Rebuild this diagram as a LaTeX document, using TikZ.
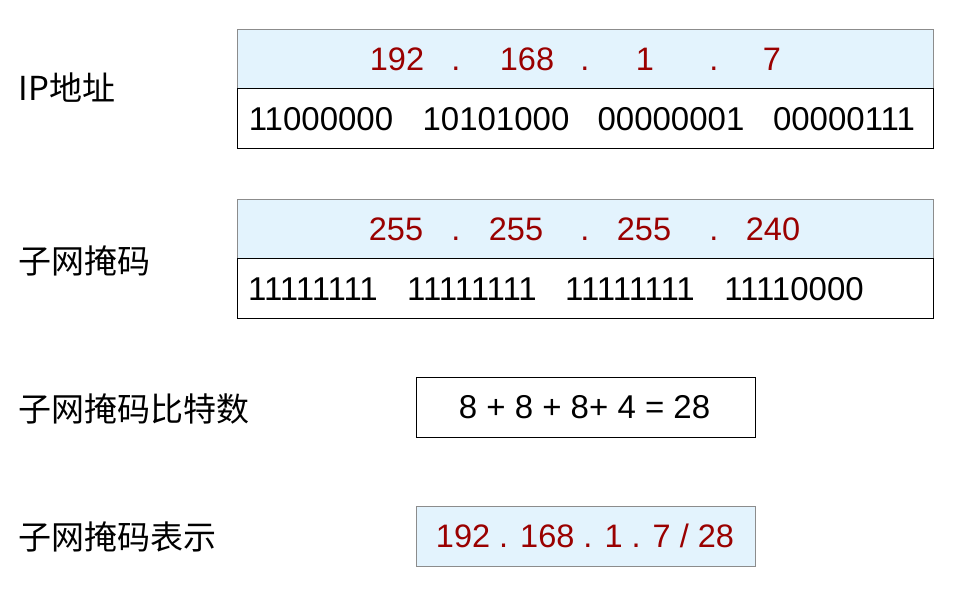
\documentclass[tikz,border=0pt]{standalone}
\usepackage{fontspec}
\setmainfont{Liberation Sans}
\newfontfamily\cjk{Noto Sans CJK SC}
\usepackage{tikz}
\definecolor{rowblue}{HTML}{E3F3FD}
\definecolor{numred}{HTML}{9A0000}
\definecolor{rimgray}{HTML}{8C8C8C}

\begin{document}
\begin{tikzpicture}[x=1pt, y=-1pt, line width=1pt,
  blue box/.style={draw=rimgray, fill=rowblue, minimum height=60pt, inner sep=0pt},
  white box/.style={draw=black, fill=white, minimum height=60pt, inner sep=0pt},
  red num/.style={anchor=base, text=numred, font=\fontsize{32.5}{33}\selectfont},
  bin num/.style={anchor=base, font=\fontsize{33}{33}\selectfont},
  side label/.style={anchor=base west, inner sep=0pt, font=\cjk\fontsize{33}{33}\selectfont}]

\useasboundingbox (0,0) rectangle (968,597);

% IP address
\node[blue box, minimum width=696pt](ipdec) at (585,59) {};
\node[white box, minimum width=696pt](ipbin) at (585,118.5) {};
\node[side label](iplabel) at (18,100) {IP地址};

\node[red num](ip1) at (397,70.5) {192};
\node[red num](ipd1) at (456,70.5) {.};
\node[red num](ip2) at (527,70.5) {168};
\node[red num](ipd2) at (585,70.5) {.};
\node[red num](ip3) at (645,70.5) {1};
\node[red num](ipd3) at (714,70.5) {.};
\node[red num](ip4) at (772,70.5) {7};

\node[bin num](ipb1) at (321,130) {11000000};
\node[bin num](ipb2) at (496,130) {10101000};
\node[bin num](ipb3) at (671,130) {00000001};
\node[bin num](ipb4) at (844,130) {00000111};

% subnet mask
\node[blue box, minimum width=696pt](maskdec) at (585,229) {};
\node[white box, minimum width=696pt](maskbin) at (585,288.5) {};
\node[side label](masklabel) at (18,273) {子网掩码};

\node[red num](m1) at (396,240) {255};
\node[red num](md1) at (456,240) {.};
\node[red num](m2) at (516,240) {255};
\node[red num](md2) at (585,240) {.};
\node[red num](m3) at (644,240) {255};
\node[red num](md3) at (714,240) {.};
\node[red num](m4) at (773,240) {240};

\node[bin num](mb1) at (313,300) {11111111};
\node[bin num](mb2) at (472,300) {11111111};
\node[bin num](mb3) at (630,300) {11111111};
\node[bin num](mb4) at (794,300) {11110000};

% mask bits
\node[white box, minimum width=339pt](bits) at (585.5,407.5) {};
\node[bin num](bitsum) at (584.5,418.5) {8 + 8 + 8+ 4 = 28};
\node[side label](bitslabel) at (18,421) {子网掩码比特数};

% notation
\node[blue box, minimum width=339pt](cidr) at (585.5,536) {};
\node[red num](cidrtext) at (585,547.5) {192 . 168 . 1 . 7 / 28};
\node[side label](cidrlabel) at (18,549) {子网掩码表示};

\end{tikzpicture}
\end{document}
